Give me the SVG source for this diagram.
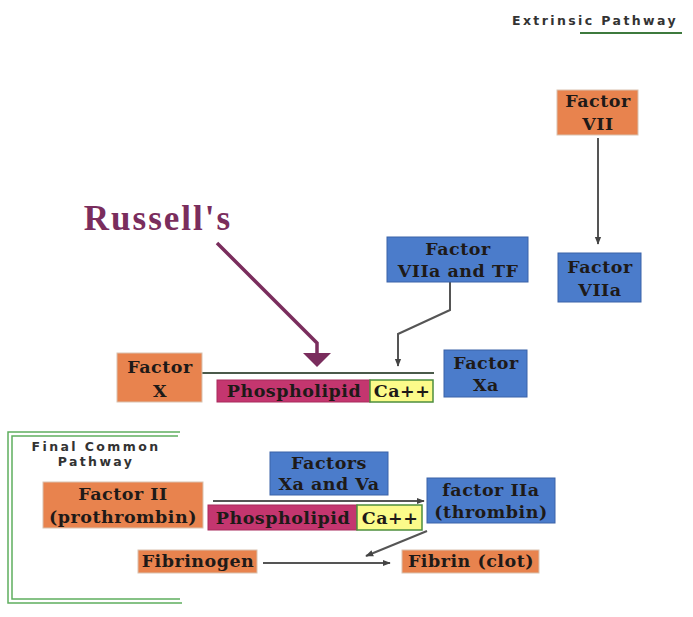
<svg xmlns="http://www.w3.org/2000/svg" width="693" height="617" viewBox="0 0 693 617">
<defs>
<style>
.org{fill:#E8834E;stroke:#D9C2B0;stroke-width:1}
.blu{fill:#4B7CCB;stroke:#3A62A8;stroke-width:1}
.mag{fill:#C4366F;stroke:#A82A5C;stroke-width:1}
.yel{fill:#FBFB8A;stroke:#4E8E3E;stroke-width:1.5}
.t{font-family:"DejaVu Serif","Liberation Serif",serif;font-weight:bold;font-size:17.5px;letter-spacing:0.5px;fill:#1E1A18;text-anchor:middle}
.lbl{font-family:"DejaVu Sans","Liberation Sans",sans-serif;font-weight:bold;font-size:12.5px;fill:#333;letter-spacing:2.4px;text-anchor:middle}
.ln{stroke:#555;stroke-width:2;fill:none}
.grn{stroke:#5FAF5F;stroke-width:1.5;fill:none}
</style>
<marker id="ah" viewBox="0 0 10 10" refX="9" refY="5" markerWidth="4" markerHeight="4" orient="auto"><path d="M0,1 L10,5 L0,9 Z" fill="#444"/></marker>
</defs>
<rect width="693" height="617" fill="#fff"/>

<g id="labels">
<text class="lbl" x="595" y="25">Extrinsic Pathway</text>
<line x1="580" y1="33" x2="682" y2="33" stroke="#3E7A3E" stroke-width="2"/>
<text x="158" y="230" text-anchor="middle" font-family="Liberation Serif,serif" font-weight="bold" font-size="35" letter-spacing="2" fill="#7A2D5D">Russell's</text>
</g>

<g id="final-common-frame">
<path class="grn" d="M180,432 L8,432 L8,603 L182,603"/>
<path class="grn" d="M178,436 L12,436 L12,599 L180,599"/>
<text class="lbl" x="96" y="451">Final Common</text>
<text class="lbl" x="96" y="466">Pathway</text>
</g>

<g id="connectors">
<line class="ln" x1="598" y1="138" x2="598" y2="244" marker-end="url(#ah)"/>
<path class="ln" d="M450,282 L450,310 L398,334 L398,366" marker-end="url(#ah)"/>
<path d="M217,243 L317,343 L317,354" stroke="#7A2D5D" stroke-width="3.5" fill="none"/>
<path d="M303,353 L331,353 L317,367 Z" fill="#7A2D5D"/>
<line x1="202" y1="373" x2="434" y2="373" stroke="#4A5A4A" stroke-width="2"/>
<line class="ln" x1="213" y1="501" x2="424" y2="501" marker-end="url(#ah)"/>
<line class="ln" x1="427" y1="531" x2="366" y2="556" marker-end="url(#ah)"/>
<line class="ln" x1="263" y1="563" x2="390" y2="563" marker-end="url(#ah)"/>
</g>

<g id="factor-vii"><rect class="org" x="557" y="90" width="81" height="45"/><text class="t" x="598" y="107">Factor</text><text class="t" x="598" y="130">VII</text></g>
<g id="factor-viia"><rect class="blu" x="558" y="253" width="83" height="49"/><text class="t" x="600" y="273">Factor</text><text class="t" x="600" y="296">VIIa</text></g>
<g id="factor-viia-tf"><rect class="blu" x="387" y="237" width="141" height="45"/><text class="t" x="458" y="255">Factor</text><text class="t" x="458" y="277">VIIa and TF</text></g>
<g id="factor-x"><rect class="org" x="117" y="353" width="85" height="49"/><text class="t" x="160" y="373">Factor</text><text class="t" x="160" y="397">X</text></g>
<g id="phospholipid-1"><rect class="mag" x="217" y="380" width="153" height="22"/><text class="t" x="294" y="397">Phospholipid</text></g>
<g id="ca-1"><rect class="yel" x="370" y="380" width="63" height="22"/><text class="t" x="402" y="397">Ca++</text></g>
<g id="factor-xa"><rect class="blu" x="444" y="350" width="83" height="47"/><text class="t" x="486" y="369">Factor</text><text class="t" x="486" y="391">Xa</text></g>
<g id="factors-xa-va"><rect class="blu" x="270" y="452" width="118" height="43"/><text class="t" x="329" y="469">Factors</text><text class="t" x="329" y="490">Xa and Va</text></g>
<g id="factor-ii"><rect class="org" x="43" y="482" width="160" height="46"/><text class="t" x="123" y="500">Factor II</text><text class="t" x="123" y="523">(prothrombin)</text></g>
<g id="phospholipid-2"><rect class="mag" x="208" y="505" width="149" height="25"/><text class="t" x="283" y="524">Phospholipid</text></g>
<g id="ca-2"><rect class="yel" x="357" y="505" width="65" height="25"/><text class="t" x="390" y="524">Ca++</text></g>
<g id="factor-iia"><rect class="blu" x="427" y="478" width="128" height="45"/><text class="t" x="491" y="496">factor IIa</text><text class="t" x="491" y="518">(thrombin)</text></g>
<g id="fibrinogen"><rect class="org" x="138" y="550" width="119" height="23"/><text class="t" x="198" y="567">Fibrinogen</text></g>
<g id="fibrin"><rect class="org" x="402" y="550" width="137" height="23"/><text class="t" x="471" y="567">Fibrin (clot)</text></g>
</svg>
